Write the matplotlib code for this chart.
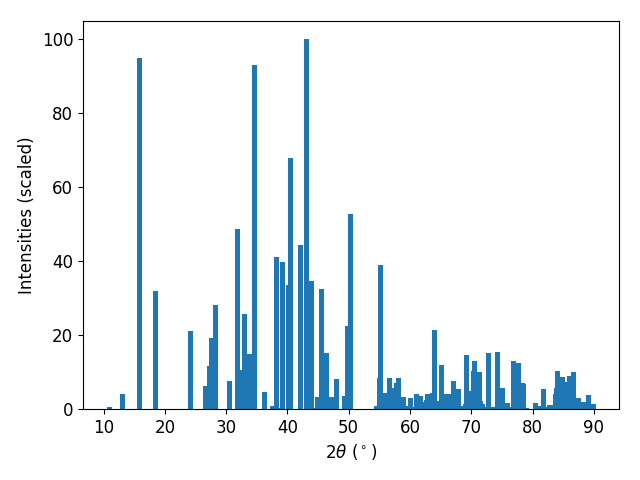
import matplotlib
matplotlib.use("Agg")
import matplotlib.pyplot as plt

two_theta = [10.94, 13.06, 15.83, 18.44, 24.15, 26.60, 27.25, 27.58, 28.23,
             30.51, 31.82, 32.63, 32.96, 33.78, 34.43, 34.59, 36.22, 37.53,
             38.18, 39.00, 39.16, 40.14, 40.47, 42.10, 43.08, 43.89, 44.55,
             44.87, 45.53, 46.34, 47.16, 47.97, 49.28, 49.77, 50.26, 54.50,
             54.99, 55.15, 55.96, 56.29, 56.62, 57.43, 57.76, 58.08, 58.90,
             59.55, 60.04, 60.86, 61.02, 61.67, 62.00, 62.65, 62.81, 63.63,
             63.96, 64.77, 65.10, 65.92, 66.24, 67.06, 67.87, 68.52, 69.01,
             69.18, 69.99, 70.32, 70.48, 71.30, 71.46, 71.79, 72.12, 72.77,
             73.59, 74.24, 75.05, 75.87, 76.20, 76.85, 77.67, 78.32, 78.48,
             78.97, 80.44, 81.26, 81.75, 82.57, 82.73, 82.90, 83.71, 83.88,
             84.04, 84.86, 85.35, 86.00, 86.66, 87.47, 88.29, 89.10, 89.92]
intensity = [0.6, 4.0, 95.1, 32.0, 21.1, 6.2, 11.6, 19.2, 28.2,
             7.6, 48.8, 10.6, 25.7, 14.9, 3.0, 93.2, 4.6, 0.8,
             41.2, 0.3, 39.8, 33.6, 68.0, 44.4, 100.0, 34.7, 0.3,
             3.2, 32.5, 15.2, 3.2, 8.1, 3.5, 22.5, 52.8, 0.8,
             8.4, 39.0, 4.3, 3.5, 8.4, 5.7, 7.0, 8.4, 3.2,
             0.8, 3.0, 0.5, 4.0, 3.5, 1.9, 2.4, 4.0, 4.3,
             21.4, 2.2, 11.9, 4.0, 4.0, 7.6, 5.4, 0.8, 1.35,
             14.6, 4.9, 10.3, 13.0, 10.0, 2.2, 1.35, 0.5, 15.2,
             0.5, 15.4, 5.7, 1.6, 0.5, 13.0, 12.5, 7.0, 6.8,
             0.3, 1.6, 0.8, 5.4, 0.5, 1.1, 1.1, 4.0, 5.7,
             10.3, 8.7, 7.3, 8.9, 10.0, 3.0, 1.9, 3.8, 1.35]

fig, ax = plt.subplots(figsize=(6.4, 4.8), dpi=100)
ax.bar(two_theta, intensity, width=0.8, color="#1f77b4")
ax.set_xlabel(r"$2\theta$ ($^\circ$)", fontsize=12)
ax.set_ylabel("Intensities (scaled)", fontsize=12)
ax.tick_params(labelsize=12)
ax.set_xlim(6.65, 94.1)
ax.set_ylim(0, 105)
fig.subplots_adjust(left=83/640, right=619/640, top=1 - 21/480, bottom=1 - 409/480)
fig.savefig("out.png", dpi=100)
